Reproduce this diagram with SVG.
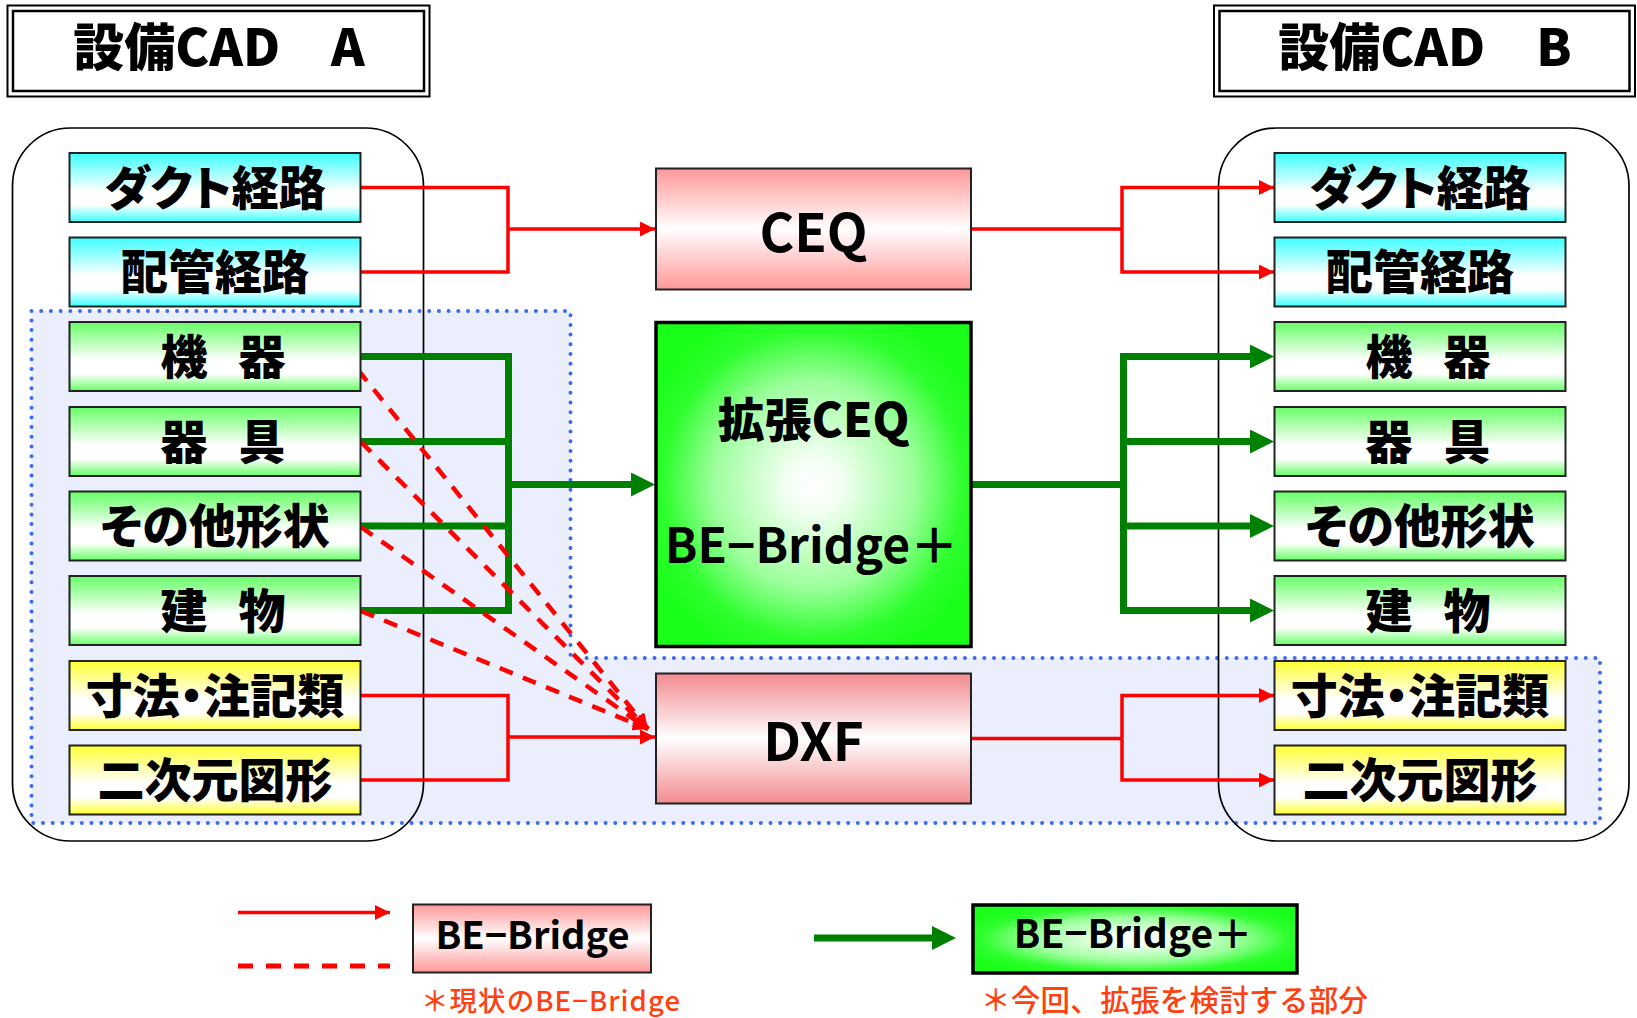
<svg xmlns="http://www.w3.org/2000/svg" width="1637" height="1018" viewBox="0 0 1637 1018">
<style>
.t{font-family:'Noto Sans CJK JP','Noto Sans CJK SC',sans-serif;font-weight:900;fill:#000;text-anchor:middle}
.lt{font-weight:700}
.lab{font-size:47px;font-feature-settings:"palt"}
.sp{letter-spacing:-8px}
.box{stroke:#222;stroke-width:2}
.ttl{fill:#fff;stroke:#000}
.cont{fill:none;stroke:#000;stroke-width:1.7}
.rd{fill:none;stroke:#FF0000;stroke-width:3.5}
.gr{fill:none;stroke:#008000;stroke-width:7;stroke-linejoin:miter}
.dash{fill:none;stroke:#FF0000;stroke-width:4.5;stroke-dasharray:14 11}
.cap{font-family:'Noto Sans CJK JP',sans-serif;font-weight:500;fill:#FF4010}
</style>
<defs>
<linearGradient id="gCyan" x1="0" y1="0" x2="0" y2="1"><stop offset="0" stop-color="#3CFFFF"/><stop offset="0.55" stop-color="#FFFFFF"/><stop offset="0.75" stop-color="#FFFFFF"/><stop offset="1" stop-color="#3CFFFF"/></linearGradient>
<linearGradient id="gGreen" x1="0" y1="0" x2="0" y2="1"><stop offset="0" stop-color="#66FF66"/><stop offset="0.55" stop-color="#FFFFFF"/><stop offset="0.75" stop-color="#FFFFFF"/><stop offset="1" stop-color="#66FF66"/></linearGradient>
<linearGradient id="gYellow" x1="0" y1="0" x2="0" y2="1"><stop offset="0" stop-color="#FFFF33"/><stop offset="0.55" stop-color="#FFFFFF"/><stop offset="0.75" stop-color="#FFFFFF"/><stop offset="1" stop-color="#FFFF33"/></linearGradient>
<linearGradient id="gPink" x1="0" y1="0" x2="0" y2="1"><stop offset="0" stop-color="#FF9797"/><stop offset="0.5" stop-color="#FFFFFF"/><stop offset="1" stop-color="#FF9797"/></linearGradient>
<linearGradient id="gPink2" x1="0" y1="0" x2="0" y2="1"><stop offset="0" stop-color="#F28A8F"/><stop offset="0.5" stop-color="#FFFFFF"/><stop offset="1" stop-color="#F28A8F"/></linearGradient>
<radialGradient id="gBig" cx="0.5" cy="0.5" r="0.58"><stop offset="0" stop-color="#FFFFFF"/><stop offset="0.15" stop-color="#F3FFF3"/><stop offset="0.55" stop-color="#9CFF9C"/><stop offset="0.82" stop-color="#2EFF2E"/><stop offset="1" stop-color="#1AFF1A"/></radialGradient>
<marker id="aR" markerUnits="userSpaceOnUse" markerWidth="15" markerHeight="15" refX="15" refY="7.5" orient="auto"><path d="M0,0 L15,7.5 L0,15 z" fill="#FF0000"/></marker>
<marker id="aG" markerUnits="userSpaceOnUse" markerWidth="24" markerHeight="24" refX="2" refY="12" orient="auto"><path d="M0,0 L24,12 L0,24 z" fill="#008000"/></marker>
</defs>
<rect width="1637" height="1018" fill="#fff"/>

<g id="titleA">
<rect class="ttl" x="7.5" y="5.5" width="422" height="91" stroke-width="2"/>
<rect class="ttl" x="13" y="11" width="411" height="80" stroke-width="2.5"/>
<text class="t" x="219" y="65.5" font-size="51">設備CAD　A</text>
</g>
<g id="titleB">
<rect class="ttl" x="1214" y="5.5" width="421" height="91" stroke-width="2"/>
<rect class="ttl" x="1219.5" y="11" width="410" height="80" stroke-width="2.5"/>
<text class="t" x="1425" y="65.5" font-size="51">設備CAD　B</text>
</g>

<g id="region">
<path d="M31.5,311 H570.5 V658 H1600 V823 H31.5 Z" fill="#EBEEFC" stroke="#3A6BF0" stroke-width="4" stroke-dasharray="0 9.7" stroke-linecap="round"/>
</g>
<g id="containerA"><rect class="cont" x="12.5" y="128" width="411" height="713" rx="58"/></g>
<g id="containerB"><rect class="cont" x="1218.5" y="128" width="410.5" height="713" rx="58"/></g>

<g id="connectors">
<path class="rd" d="M361,187.5 H508 V272 H361"/>
<path class="rd" d="M508,229 H655" marker-end="url(#aR)"/>
<path class="rd" d="M971,229 H1122"/>
<path class="rd" d="M1122,229 V187.5 H1274" marker-end="url(#aR)"/>
<path class="rd" d="M1122,229 V272 H1274" marker-end="url(#aR)"/>
<path class="gr" d="M361,356.5 H508.5 V610.5 H361"/>
<path class="gr" d="M361,441.5 H508.5"/>
<path class="gr" d="M361,526 H508.5"/>
<path class="gr" d="M505,484.5 H633" marker-end="url(#aG)"/>
<path class="gr" d="M971,484.5 H1123.5"/>
<path class="gr" d="M1123.5,356.5 V610.5" stroke-linecap="square"/>
<path class="gr" d="M1120,356.5 H1252" marker-end="url(#aG)"/>
<path class="gr" d="M1120,441.5 H1252" marker-end="url(#aG)"/>
<path class="gr" d="M1120,526 H1252" marker-end="url(#aG)"/>
<path class="gr" d="M1120,610.5 H1252" marker-end="url(#aG)"/>
<path class="rd" d="M361,695.5 H508 V780 H361"/>
<path class="rd" d="M508,737 H655" marker-end="url(#aR)"/>
<path class="rd" d="M971,738.5 H1122"/>
<path class="rd" d="M1122,738.5 V695.5 H1274" marker-end="url(#aR)"/>
<path class="rd" d="M1122,738.5 V780 H1274" marker-end="url(#aR)"/>
<path class="dash" d="M358,370 L648,729" marker-end="url(#aR)"/>
<path class="dash" d="M361,442 L648,729" marker-end="url(#aR)"/>
<path class="dash" d="M361,527 L648,729" marker-end="url(#aR)"/>
<path class="dash" d="M361,611 L648,729" marker-end="url(#aR)"/>
</g>

<g id="a-duct"><rect class="box" x="69.5" y="153" width="291" height="69" fill="url(#gCyan)"/><text class="t lab" x="215" y="204.5">ダクト経路</text></g>
<g id="a-pipe"><rect class="box" x="69.5" y="237.5" width="291" height="69" fill="url(#gCyan)"/><text class="t lab" x="215" y="289">配管経路</text></g>
<g id="a-kiki"><rect class="box" x="69.5" y="322" width="291" height="69" fill="url(#gGreen)"/><text class="t lab sp" x="219" y="373.5">機　器</text></g>
<g id="a-kigu"><rect class="box" x="69.5" y="407" width="291" height="69" fill="url(#gGreen)"/><text class="t lab sp" x="219" y="458.5">器　具</text></g>
<g id="a-other"><rect class="box" x="69.5" y="491.5" width="291" height="69" fill="url(#gGreen)"/><text class="t lab" x="215" y="543">その他形状</text></g>
<g id="a-bldg"><rect class="box" x="69.5" y="576" width="291" height="69" fill="url(#gGreen)"/><text class="t lab sp" x="219" y="627.5">建　物</text></g>
<g id="a-dim"><rect class="box" x="69.5" y="661" width="291" height="69" fill="url(#gYellow)"/><text class="t lab" x="215" y="712.5">寸法・注記類</text></g>
<g id="a-2d"><rect class="box" x="69.5" y="745.5" width="291" height="69" fill="url(#gYellow)"/><text class="t lab" x="215" y="797">二次元図形</text></g>

<g id="b-duct"><rect class="box" x="1274.5" y="153" width="291" height="69" fill="url(#gCyan)"/><text class="t lab" x="1420" y="204.5">ダクト経路</text></g>
<g id="b-pipe"><rect class="box" x="1274.5" y="237.5" width="291" height="69" fill="url(#gCyan)"/><text class="t lab" x="1420" y="289">配管経路</text></g>
<g id="b-kiki"><rect class="box" x="1274.5" y="322" width="291" height="69" fill="url(#gGreen)"/><text class="t lab sp" x="1424" y="373.5">機　器</text></g>
<g id="b-kigu"><rect class="box" x="1274.5" y="407" width="291" height="69" fill="url(#gGreen)"/><text class="t lab sp" x="1424" y="458.5">器　具</text></g>
<g id="b-other"><rect class="box" x="1274.5" y="491.5" width="291" height="69" fill="url(#gGreen)"/><text class="t lab" x="1420" y="543">その他形状</text></g>
<g id="b-bldg"><rect class="box" x="1274.5" y="576" width="291" height="69" fill="url(#gGreen)"/><text class="t lab sp" x="1424" y="627.5">建　物</text></g>
<g id="b-dim"><rect class="box" x="1274.5" y="661" width="291" height="69" fill="url(#gYellow)"/><text class="t lab" x="1420" y="712.5">寸法・注記類</text></g>
<g id="b-2d"><rect class="box" x="1274.5" y="745.5" width="291" height="69" fill="url(#gYellow)"/><text class="t lab" x="1420" y="797">二次元図形</text></g>

<g id="ceq"><rect class="box" x="656" y="168.5" width="315" height="121" fill="url(#gPink)"/><text class="t lt" x="813.5" y="252" font-size="53">CEQ</text></g>
<g id="ext"><rect x="656" y="322.5" width="315" height="324" fill="url(#gBig)" stroke="#000" stroke-width="3.5"/><text class="t" x="813.5" y="437" font-size="47">拡張CEQ</text><text class="t lt" x="811.5" y="563" font-size="48">BE−Bridge＋</text></g>
<g id="dxf"><rect class="box" x="656" y="673.5" width="315" height="130" fill="url(#gPink2)"/><text class="t lt" x="813.5" y="761" font-size="53">DXF</text></g>

<g id="legend">
<path class="rd" d="M238,912.5 H390" marker-end="url(#aR)"/>
<path fill="none" stroke="#FF0000" stroke-width="5" stroke-dasharray="15 13" d="M238,966 H390"/>
<path class="gr" d="M814,938 H934" marker-end="url(#aG)"/>
</g>
<g id="leg-be"><rect class="box" x="413" y="904.5" width="238" height="68" fill="url(#gPink)"/><text class="t lt" x="532.5" y="948.5" font-size="38">BE−Bridge</text></g>
<g id="leg-beplus"><rect x="973" y="905" width="324" height="68" fill="url(#gBig)" stroke="#000" stroke-width="3.5"/><text class="t lt" x="1133" y="948" font-size="39">BE−Bridge＋</text></g>
<text class="cap" x="421" y="1011" font-size="27.5" textLength="259" lengthAdjust="spacing">＊現状のBE−Bridge</text>
<text class="cap" x="981" y="1011" font-size="29.5" textLength="387" lengthAdjust="spacing">＊今回、拡張を検討する部分</text>
</svg>
